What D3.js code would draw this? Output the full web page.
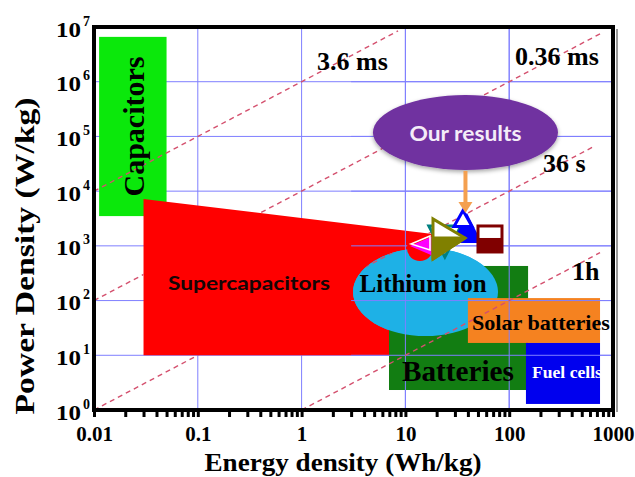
<!DOCTYPE html>
<html>
<head>
<meta charset="utf-8">
<script src="https://d3js.org/d3.v7.min.js"></script>
<style>
  body { margin: 0; background: #fff; }
  svg text { font-family: "Liberation Serif", "Times New Roman", serif; font-weight: bold; }
</style>
</head>
<body>
<script>
// ---- data (energy in Wh/kg, power in W/kg) ----
var energyTicks = [0.01, 0.1, 1, 10, 100, 1000];
var energyTickLabels = ["0.01", "0.1", "1", "10", "100", "1000"];
var powerExponents = [0, 1, 2, 3, 4, 5, 6, 7];

// boxes: [Emin, Emax, Pmin, Pmax]
var capacitorsBox = [0.0112, 0.05, 3500, 6.6e6];
var lithiumBox = [3.13, 78, 22.5, 914];
var batteriesBox = [6.95, 152, 2.32, 429];
var solarBox = [40, 750, 16.8, 111];
var fuelBox = [145, 750, 1.29, 16.8];
var ourResultsBox = [4.87, 295, 2.44e4, 5.7e5];
var supercapOutline = [[0.03, 10], [0.03, 7200], [21, 1600], [21, 500], [6.95, 40], [6.95, 10]];

// constant-time lines P = ratio * E
var timeRatios = [1, 100, 1e4, 1e6];
var timeLineFrom = [1, 0.01, 0.01, 0.01];
var timeLineTo = [750, 650, 800, 8.5];
var timeLabels = ["1h", "36 s", "0.36 ms", "3.6 ms"];
var timeLabelE = [403, 212, 114, 1.41];
var timeLabelP = [238, 2.24e4, 2.02e6, 1.64e6];

// "our results" points
var markerE = [13.8, 15.1, 24, 39.2, 35.9, 26.3, 65.3];
var markerP = [915, 995, 1228, 2120, 3160, 1336, 1393];
var markerKinds = ["circle", "triLeft", "triDown", "triUpFill", "triUpOpen", "triRight", "square"];

// ---- styles ----
var markerColors = {
  circle: "#ff0000", triLeft: "#ff00ff", triDown: "#008080", triUpFill: "#0000ff",
  triUpOpen: "#0000ff", triRight: "#808000", square: "#800000"
};

var width = 635, height = 477;
var x = d3.scaleLog().domain([0.01, 1000]).range([94, 613]);
var y = d3.scaleLog().domain([1, 1e7]).range([410, 27]);

var svg = d3.select("body").append("svg")
    .attr("width", width)
    .attr("height", height);

var defs = svg.append("defs");

function boxRect(b) {
  return { x: x(b[0]), y: y(b[3]), w: x(b[1]) - x(b[0]), h: y(b[2]) - y(b[3]) };
}
function boxEllipse(b) {
  var r = boxRect(b);
  return { cx: r.x + r.w / 2, cy: r.y + r.h / 2, rx: r.w / 2, ry: r.h / 2 };
}

var lineGen = d3.line()
    .x(function(d) { return x(d[0]); })
    .y(function(d) { return y(d[1]); });

defs.append("clipPath").attr("id", "rightClip")
  .append("rect")
    .attr("x", x(3)).attr("y", y(1e7))
    .attr("width", x(1000) - x(3)).attr("height", y(1) - y(1e7));

var lith = boxEllipse(lithiumBox);
var mask = defs.append("mask").attr("id", "lineMask")
    .attr("maskUnits", "userSpaceOnUse")
    .attr("x", 0).attr("y", 0).attr("width", width).attr("height", height);
mask.append("rect").attr("width", width).attr("height", height).attr("fill", "#fff");
mask.append("path").attr("d", lineGen(supercapOutline) + "Z").attr("fill", "#000");
mask.append("ellipse").attr("cx", lith.cx).attr("cy", lith.cy)
    .attr("rx", lith.rx).attr("ry", lith.ry).attr("fill", "#fff");

var shadow = defs.append("filter").attr("id", "shadow")
    .attr("x", "-20%").attr("y", "-20%").attr("width", "140%").attr("height", "150%");
shadow.append("feDropShadow")
    .attr("dx", 0).attr("dy", 2).attr("stdDeviation", 2)
    .attr("flood-color", "#000").attr("flood-opacity", 0.35);

function drawGrid(g) {
  g.selectAll(".vgrid")
      .data(energyTicks)
      .enter().append("line")
      .attr("x1", function(d) { return x(d); })
      .attr("x2", function(d) { return x(d); })
      .attr("y1", y(1e7)).attr("y2", y(1))
      .attr("stroke", "#7f7fff").attr("stroke-width", 1);
  g.selectAll(".hgrid")
      .data(powerExponents)
      .enter().append("line")
      .attr("x1", x(0.01)).attr("x2", x(1000))
      .attr("y1", function(d) { return y(Math.pow(10, d)); })
      .attr("y2", function(d) { return y(Math.pow(10, d)); })
      .attr("stroke", "#7f7fff").attr("stroke-width", 1);
}

function drawBox(b, color) {
  var r = boxRect(b);
  svg.append("rect")
      .attr("x", r.x).attr("y", r.y)
      .attr("width", r.w).attr("height", r.h)
      .attr("fill", color);
}

function drawTimeLines() {
  var g = svg.append("g").attr("mask", "url(#lineMask)");
  g.selectAll(".tline")
      .data(timeRatios)
      .enter().append("path")
      .attr("d", function(d, i) {
        return lineGen([[timeLineFrom[i], d * timeLineFrom[i]], [timeLineTo[i], d * timeLineTo[i]]]);
      })
      .attr("fill", "none")
      .attr("stroke", "#d4506e")
      .attr("stroke-width", 1.4)
      .attr("stroke-dasharray", "5,4");
}

function triPath(kind, cx, cy) {
  if (kind == "triLeft") return [[cx - 14, cy], [cx + 14, cy - 12], [cx + 14, cy + 12]];
  if (kind == "triDown") return [[cx - 16, cy - 15], [cx + 16, cy - 15], [cx, cy + 16]];
  if (kind == "triUpFill") return [[cx, cy - 15], [cx - 15, cy + 15], [cx + 15, cy + 15]];
  if (kind == "triUpOpen") return [[cx, cy - 8], [cx - 9, cy + 8], [cx + 9, cy + 8]];
  if (kind == "triRight") return [[cx - 16, cy - 20], [cx - 16, cy + 20], [cx + 16, cy - 1]];
  return [];
}

function drawMarkers() {
  var g = svg.append("g");
  markerKinds.forEach(function(kind, i) {
    var cx = x(markerE[i]), cy = y(markerP[i]);
    var c = markerColors[kind];
    if (kind == "circle") {
      g.append("circle").attr("cx", cx).attr("cy", cy).attr("r", 13).attr("fill", c);
    } else if (kind == "square") {
      g.append("rect").attr("x", cx - 12).attr("y", cy - 12).attr("width", 24).attr("height", 26)
          .attr("fill", "#fff").attr("stroke", c).attr("stroke-width", 3);
      g.append("rect").attr("x", cx - 12).attr("y", cy).attr("width", 24).attr("height", 14)
          .attr("fill", c);
    } else if (kind == "triLeft") {
      var p = triPath(kind, cx, cy);
      g.append("path").attr("d", d3.line()(p) + "Z").attr("fill", c);
      g.append("path").attr("d", d3.line()([[cx - 13, cy - 2], [cx + 6, cy - 10], [cx + 6, cy + 4]]) + "Z")
          .attr("fill", "none").attr("stroke", "#fff").attr("stroke-width", 1.6);
    } else if (kind == "triRight") {
      var q = triPath(kind, cx, cy);
      g.append("path").attr("d", d3.line()(q) + "Z")
          .attr("fill", "#fff").attr("stroke", c).attr("stroke-width", 3);
      g.append("path").attr("d", d3.line()([[cx - 16, cy - 1], [cx + 16, cy - 1], [cx - 16, cy + 20]]) + "Z")
          .attr("fill", c).attr("stroke", c).attr("stroke-width", 3).attr("stroke-linejoin", "round");
    } else if (kind == "triUpFill") {
      g.append("path").attr("d", d3.line()(triPath(kind, cx, cy)) + "Z").attr("fill", c);
    } else {
      g.append("path").attr("d", d3.line()(triPath(kind, cx, cy)) + "Z")
          .attr("fill", "#fff")
          .attr("stroke", c).attr("stroke-width", 3);
    }
  });
}

function drawAxes() {
  var minor = [];
  energyTicks.forEach(function(t, i) {
    if (i < energyTicks.length - 1) {
      for (var k = 2; k <= 9; k++) minor.push(t * k);
    }
  });
  var xAxis = d3.axisBottom(x)
      .tickValues(energyTicks.concat(minor))
      .tickSize(5)
      .tickFormat(function(d) {
        var i = energyTicks.indexOf(d);
        return i >= 0 ? energyTickLabels[i] : "";
      });
  var gx = svg.append("g")
      .attr("transform", "translate(0," + y(1) + ")")
      .call(xAxis);
  gx.select(".domain").remove();
  gx.selectAll(".tick line").attr("stroke", "#000").attr("stroke-width", 3)
      .attr("y1", 1).attr("y2", 7);
  gx.selectAll(".tick text")
      .attr("y", 31).attr("dy", 0)
      .attr("fill", "#000")
      .style("font-size", "21px")
      .style("font-family", "'Liberation Serif', serif")
      .style("font-weight", "bold");

  var yAxis = d3.axisLeft(y)
      .tickValues(powerExponents.map(function(e) { return Math.pow(10, e); }))
      .tickSize(0)
      .tickFormat("");
  var gy = svg.append("g")
      .attr("transform", "translate(" + x(0.01) + ",0)")
      .call(yAxis);
  gy.select(".domain").remove();
  gy.selectAll(".tick").each(function(d, i) {
    var t = d3.select(this).append("text")
        .attr("x", -4).attr("y", 9)
        .attr("text-anchor", "end")
        .attr("fill", "#000");
    t.append("tspan").text("10")
        .style("font-size", "22px")
        .attr("textLength", 25).attr("lengthAdjust", "spacingAndGlyphs");
    t.append("tspan").text(powerExponents[i])
        .style("font-size", "14px")
        .attr("dx", 2).attr("dy", -11);
  });

  // frame
  svg.append("line")
      .attr("x1", x(1000) + 4).attr("x2", x(1000) + 4)
      .attr("y1", y(1e7) + 2).attr("y2", y(1) + 2)
      .attr("stroke", "#9a9a9a").attr("stroke-width", 2);
  svg.append("rect")
      .attr("x", x(0.01)).attr("y", y(1e7))
      .attr("width", x(1000) - x(0.01)).attr("height", y(1) - y(1e7))
      .attr("fill", "none").attr("stroke", "#000").attr("stroke-width", 4);

  svg.append("text")
      .attr("x", 343).attr("y", 471)
      .attr("text-anchor", "middle")
      .attr("textLength", 277).attr("lengthAdjust", "spacingAndGlyphs")
      .style("font-size", "26px")
      .text("Energy density (Wh/kg)");
  svg.append("text")
      .attr("transform", "translate(34,256) rotate(-90)")
      .attr("text-anchor", "middle")
      .attr("textLength", 317).attr("lengthAdjust", "spacingAndGlyphs")
      .style("font-size", "27px")
      .text("Power Density (W/kg)");
}

function label(txt, e, p, size, opts) {
  opts = opts || {};
  var t = svg.append("text")
      .attr("x", x(e)).attr("y", y(p))
      .attr("text-anchor", opts.anchor || "middle")
      .attr("dominant-baseline", opts.baseline || "central")
      .attr("fill", opts.color || "#000")
      .style("font-size", size + "px")
      .text(txt);
  if (opts.family) t.style("font-family", opts.family);
  if (opts.len) t.attr("textLength", opts.len).attr("lengthAdjust", "spacingAndGlyphs");
  return t;
}

// ---- draw ----
drawGrid(svg.append("g"));

drawBox(capacitorsBox, "#0be80b");
svg.append("path")
    .attr("d", lineGen(supercapOutline) + "Z")
    .attr("fill", "#ff0000");

svg.append("ellipse")
    .attr("cx", lith.cx).attr("cy", lith.cy)
    .attr("rx", lith.rx).attr("ry", lith.ry)
    .attr("fill", "#1eb1e6");
drawBox(batteriesBox, "#127d12");
svg.append("ellipse")
    .attr("cx", lith.cx).attr("cy", lith.cy)
    .attr("rx", lith.rx).attr("ry", lith.ry)
    .attr("fill", "#1eb1e6")
    .attr("clip-path", "url(#rightClip)");
drawBox(solarBox, "#f58220");
drawBox(fuelBox, "#0000ee");

drawGrid(svg.append("g").attr("clip-path", "url(#rightClip)"));
drawTimeLines();

drawMarkers();

// our results callout
var ours = boxEllipse(ourResultsBox);
svg.append("ellipse")
    .attr("cx", ours.cx).attr("cy", ours.cy)
    .attr("rx", ours.rx).attr("ry", ours.ry)
    .attr("fill", "#7030a0")
    .attr("filter", "url(#shadow)");
var oursE = Math.sqrt(ourResultsBox[0] * ourResultsBox[1]);
svg.append("line")
    .attr("x1", x(oursE)).attr("x2", x(oursE))
    .attr("y1", y(ourResultsBox[2]) + 1).attr("y2", y(5600))
    .attr("stroke", "#f4a050").attr("stroke-width", 4);
svg.append("path")
    .attr("d", d3.line()([[x(oursE) - 7, y(5600) - 3], [x(oursE) + 7, y(5600) - 3], [x(oursE), y(5600) + 8]]) + "Z")
    .attr("fill", "#f4a050");

drawAxes();

// region labels
svg.append("text")
    .attr("transform", "translate(" + (x(Math.sqrt(capacitorsBox[0] * capacitorsBox[1])) + 1) + "," +
          y(Math.sqrt(capacitorsBox[2] * capacitorsBox[3])) + ") rotate(-90)")
    .attr("text-anchor", "middle")
    .attr("dominant-baseline", "central")
    .attr("textLength", 140).attr("lengthAdjust", "spacingAndGlyphs")
    .style("font-size", "29px")
    .text("Capacitors");
label("Supercapacitors", 0.311, 210, 18, { family: "Lato, 'Open Sans', sans-serif", len: 162, color: "#150505" });
label("Lithium ion", 14.8, 201, 25, { len: 127 });
label("Batteries", 32.1, 5.16, 29, { len: 112 });
label("Solar batteries", 202, 38.9, 21, { len: 138 });
label("Fuel cells", 360, 4.75, 17, { color: "#fff", len: 70 });
label("Our results", oursE, Math.sqrt(ourResultsBox[2] * ourResultsBox[3]), 20,
      { family: "Lato, 'Open Sans', sans-serif", color: "#f4ecf8", len: 112 });

// time labels
timeLabels.forEach(function(t, i) {
  label(t, timeLabelE[i], timeLabelP[i], 26, { anchor: "start", baseline: "auto" });
});
</script>
</body>
</html>
